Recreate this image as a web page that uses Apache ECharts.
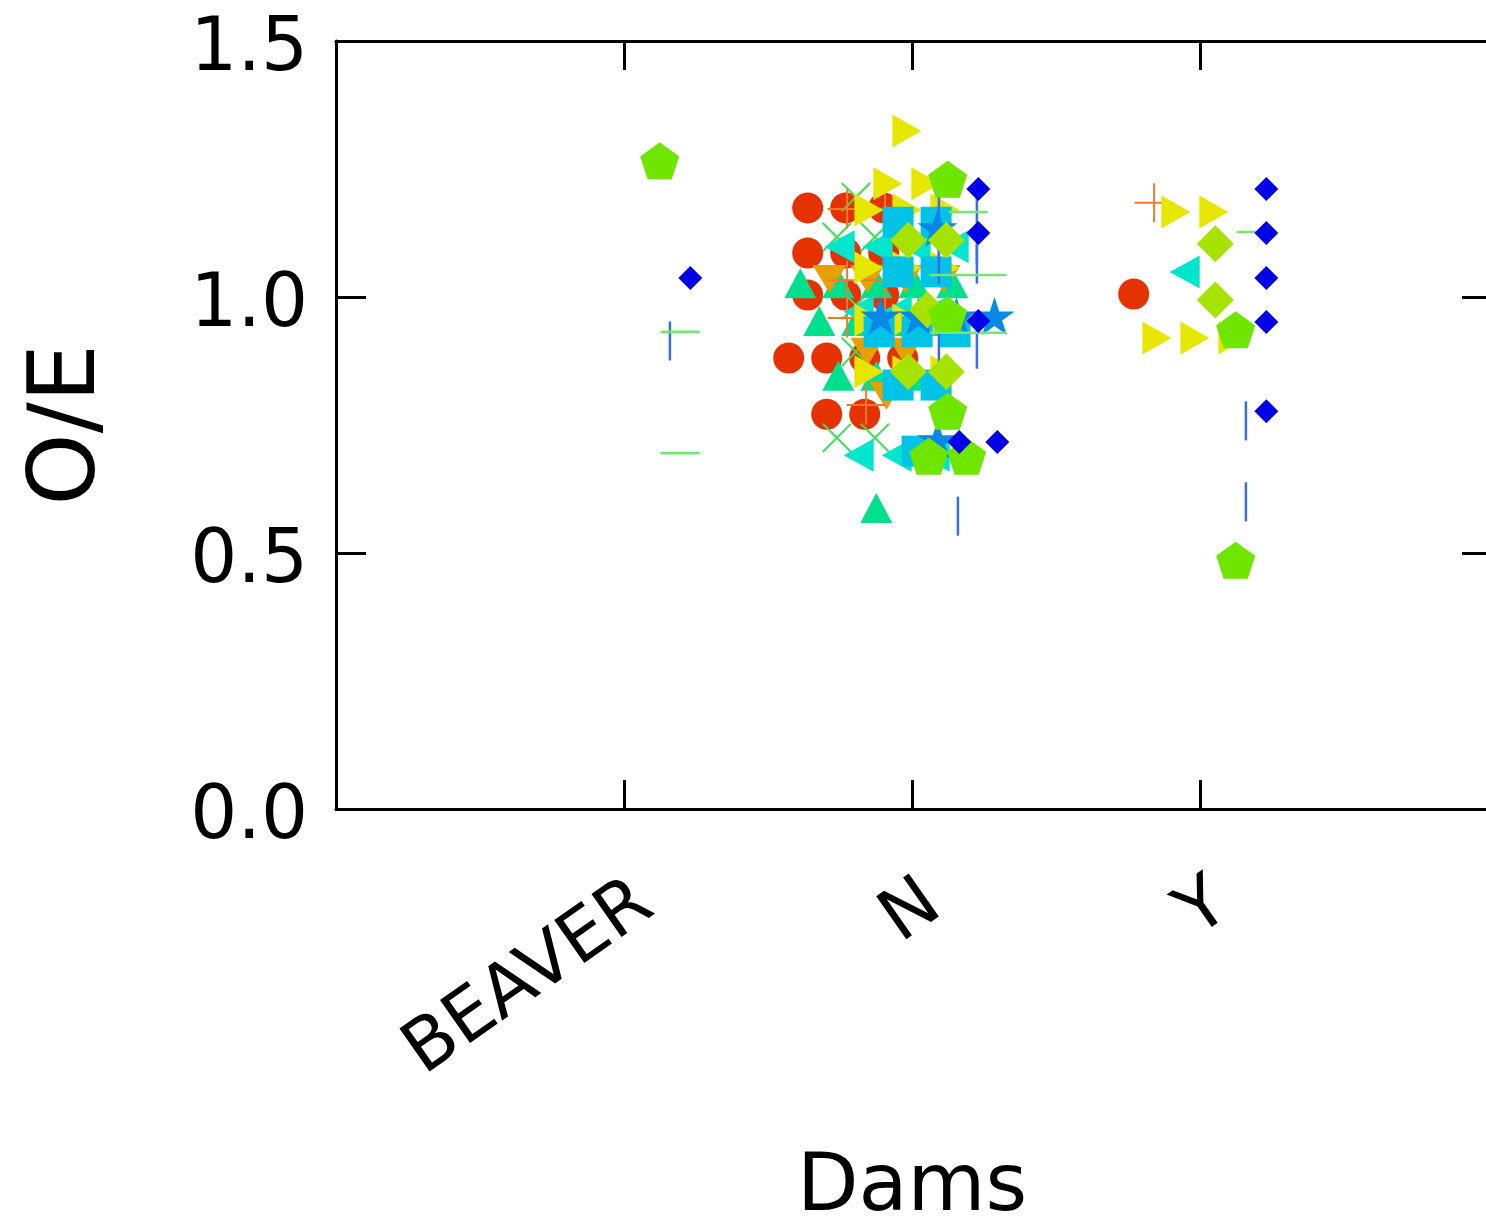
<!DOCTYPE html>
<html>
<head>
<meta charset="utf-8">
<title>O/E by Dams</title>
<script src="https://cdn.jsdelivr.net/npm/echarts@6.0.0/dist/echarts.min.js"></script>
<style>
  html, body { margin: 0; padding: 0; background: #ffffff; }
  #chart { width: 1486px; height: 1223px; }
</style>
</head>
<body>
<div id="chart"></div>
<script>
// Categories along the x axis
const categories = ['BEAVER', 'N', 'Y'];
const yTicks = [0, 0.5, 1.0, 1.5];

// O/E values per group, one list per category [BEAVER, N, Y].
// Repeated values are drawn side by side.
const circleValues = [[], [1.174, 1.174, 1.174, 1.086, 1.086, 1.086, 1.004, 1.004, 1.004, 0.881, 0.881, 0.881, 0.881, 0.771, 0.771], [1.006]];
const crossValues = [[], [1.195, 1.117, 1.117, 0.984, 0.893, 0.725, 0.725], []];
const plusValues = [[], [1.172, 1.172, 1.033, 1.033, 0.959, 0.959, 0.789], [1.184]];
const upTriValues = [[], [1.027, 1.027, 1.027, 1.027, 1.027, 0.953, 0.953, 0.953, 0.953, 0.846, 0.846, 0.846, 0.588], []];
const downTriValues = [[], [1.035, 1.035, 1.035, 1.035, 0.893, 0.893, 0.807], []];
const leftTriValues = [[], [1.098, 1.098, 1.098, 1.098, 0.971, 0.971, 0.971, 0.691, 0.691, 0.691], [1.049]];
const rightTriValues = [[], [1.324, 1.221, 1.221, 1.170, 1.170, 1.170, 1.057, 1.057, 1.057, 0.955, 0.955, 0.955, 0.854, 0.854, 0.854], [1.166, 1.166, 0.920, 0.920, 0.920]];
const squareValues = [[], [1.146, 1.146, 1.049, 1.049, 0.932, 0.932, 0.932, 0.828, 0.828, 0.699], []];
const limeDiamondValues = [[], [1.111, 1.111, 0.975, 0.854, 0.854], [1.104, 0.994]];
const starValues = [[], [1.135, 0.963, 0.963, 0.963, 0.963, 0.721], []];
const pentagonValues = [[1.266], [1.230, 0.965, 0.777, 0.689, 0.689], [0.936, 0.486]];
const vlineValues = [[0.914], [1.176, 1.176, 1.102, 1.102, 1.064, 1.064, 0.898, 0.898, 0.572], [0.758, 0.600]];
const hlineValues = [[0.932, 0.695], [1.166, 1.043, 1.043, 0.930, 0.930], [1.127]];
const blueDiamondValues = [[1.037], [1.211, 1.125, 0.953, 0.717, 0.717], [1.211, 1.125, 1.037, 0.951, 0.777]];

// Symbol shapes
const PENTAGON = 'path://M50,0 L97.55,34.55 L79.39,90.45 L20.61,90.45 L2.45,34.55 Z';
const STAR = 'path://M50,0 L61.2,34.5 L97.6,34.5 L68.2,55.9 L79.4,90.5 L50,69.1 L20.6,90.5 L31.8,55.9 L2.4,34.5 L38.8,34.5 Z';
const PLUS = 'path://M0,19 L40,19 L40,21 L0,21 Z M19,0 L21,0 L21,40 L19,40 Z';

// Group styles; slot = position of the group inside a category
const groups = [
  { name: 'circle',      values: circleValues,      slot: 0,  symbol: 'circle',   size: 31,        rotate: 0,   color: '#e63200' },
  { name: 'cross',       values: crossValues,       slot: 1,  symbol: PLUS,       size: 40,        rotate: 45,  color: '#3ce050' },
  { name: 'upTri',       values: upTriValues,       slot: 3,  symbol: 'triangle', size: [32, 30],  rotate: 0,   color: '#00e08c' },
  { name: 'downTri',     values: downTriValues,     slot: 4,  symbol: 'triangle', size: [34, 28],  rotate: 180, color: '#e6a000' },
  { name: 'plus',        values: plusValues,        slot: 2,  symbol: PLUS,       size: 39,        rotate: 0,   color: '#f07c2a' },
  { name: 'leftTri',     values: leftTriValues,     slot: 5,  symbol: 'triangle', size: [33, 30],  rotate: 90,  color: '#00e6cc' },
  { name: 'rightTri',    values: rightTriValues,    slot: 6,  symbol: 'triangle', size: [33, 29],  rotate: -90, color: '#e6e600' },
  { name: 'square',      values: squareValues,      slot: 7,  symbol: 'rect',     size: 31,        rotate: 0,   color: '#00c3e6' },
  { name: 'vline',       values: vlineValues,       slot: 11, symbol: 'rect',     size: [2.5, 39], rotate: 0,   color: '#3a6ee8' },
  { name: 'star',        values: starValues,        slot: 9,  symbol: STAR,       size: [40, 38],  rotate: 0,   color: '#0a88e6' },
  { name: 'limeDiamond', values: limeDiamondValues, slot: 8,  symbol: 'diamond',  size: 37,        rotate: 0,   color: '#a6e300' },
  { name: 'pentagon',    values: pentagonValues,    slot: 10, symbol: PENTAGON,   size: [39, 37],  rotate: 0,   color: '#6ee600' },
  { name: 'hline',       values: hlineValues,       slot: 12, symbol: 'rect',     size: [39, 2.5], rotate: 0,   color: '#74e674' },
  { name: 'blueDiamond', values: blueDiamondValues, slot: 13, symbol: 'diamond',  size: 24,        rotate: 0,   color: '#0000e6' }
];

// Layout in axis units (one category = 1 unit = 288 px)
const SLOT_STEP = 10.2 / 288;
const STACK_STEP = 38 / 288;
const LABEL_SHIFT = 22 / 288;

function placePoints(valuesByCat, slot) {
  const pts = [];
  valuesByCat.forEach((vals, ci) => {
    const counts = new Map();
    vals.forEach(v => counts.set(v, (counts.get(v) || 0) + 1));
    const center = ci + 1 + (slot - 6.5) * SLOT_STEP;
    counts.forEach((n, v) => {
      for (let j = 0; j < n; j++) {
        pts.push([center + (j - (n - 1) / 2) * STACK_STEP, v]);
      }
    });
  });
  return pts;
}

const FONT = 'DejaVu Sans';
const frameLine = { show: true, onZero: false, lineStyle: { color: '#000', width: 3 } };
const innerTick = len => ({ show: true, inside: true, length: len, lineStyle: { color: '#000', width: 3 } });

const chart = echarts.init(document.getElementById('chart'), null, { renderer: 'canvas' });
chart.setOption({
  animation: false,
  backgroundColor: '#ffffff',
  grid: { left: 336, top: 41, width: 1152, height: 768, containLabel: false, outerBoundsMode: 'none' },
  xAxis: [
    {
      type: 'value', position: 'bottom', min: 0, max: 4, interval: 1,
      axisLine: frameLine,
      axisTick: innerTick(29),
      axisLabel: { show: false },
      splitLine: { show: false },
      name: 'Dams', nameLocation: 'middle', nameGap: 340,
      nameTextStyle: { fontFamily: FONT, fontSize: 80, color: '#000' }
    },
    {
      type: 'value', position: 'top', min: 0, max: 4, interval: 1,
      axisLine: frameLine,
      axisTick: innerTick(29),
      axisLabel: { show: false },
      splitLine: { show: false }
    },
    {
      type: 'value', position: 'bottom', min: -LABEL_SHIFT, max: 4 - LABEL_SHIFT,
      axisLine: { show: false, onZero: false },
      axisTick: { show: false },
      splitLine: { show: false },
      axisLabel: {
        show: true,
        customValues: [1, 2, 3],
        formatter: v => categories[Math.round(v) - 1] || '',
        rotate: 35, margin: 88,
        fontFamily: FONT, fontSize: 72, color: '#000'
      }
    }
  ],
  yAxis: [
    {
      type: 'value', position: 'left', min: yTicks[0], max: yTicks[yTicks.length - 1], interval: 0.5,
      axisLine: frameLine,
      axisTick: innerTick(30),
      axisLabel: {
        show: true, margin: 28,
        formatter: v => v.toFixed(1),
        verticalAlign: 'top', lineHeight: 20,
        fontFamily: FONT, fontSize: 74, color: '#000'
      },
      splitLine: { show: false },
      name: 'O/E', nameLocation: 'middle', nameGap: 220,
      nameTextStyle: { fontFamily: FONT, fontSize: 92, color: '#000' }
    },
    {
      type: 'value', position: 'right', min: yTicks[0], max: yTicks[yTicks.length - 1], interval: 0.5,
      axisLine: frameLine,
      axisTick: innerTick(26),
      axisLabel: { show: false },
      splitLine: { show: false }
    }
  ],
  series: groups.map(g => ({
    name: g.name,
    type: 'scatter',
    xAxisIndex: 0,
    yAxisIndex: 0,
    symbol: g.symbol,
    symbolSize: g.size,
    symbolRotate: g.rotate,
    itemStyle: { color: g.color, opacity: 1 },
    emphasis: { disabled: true },
    silent: true,
    data: placePoints(g.values, g.slot)
  }))
});
</script>
</body>
</html>
